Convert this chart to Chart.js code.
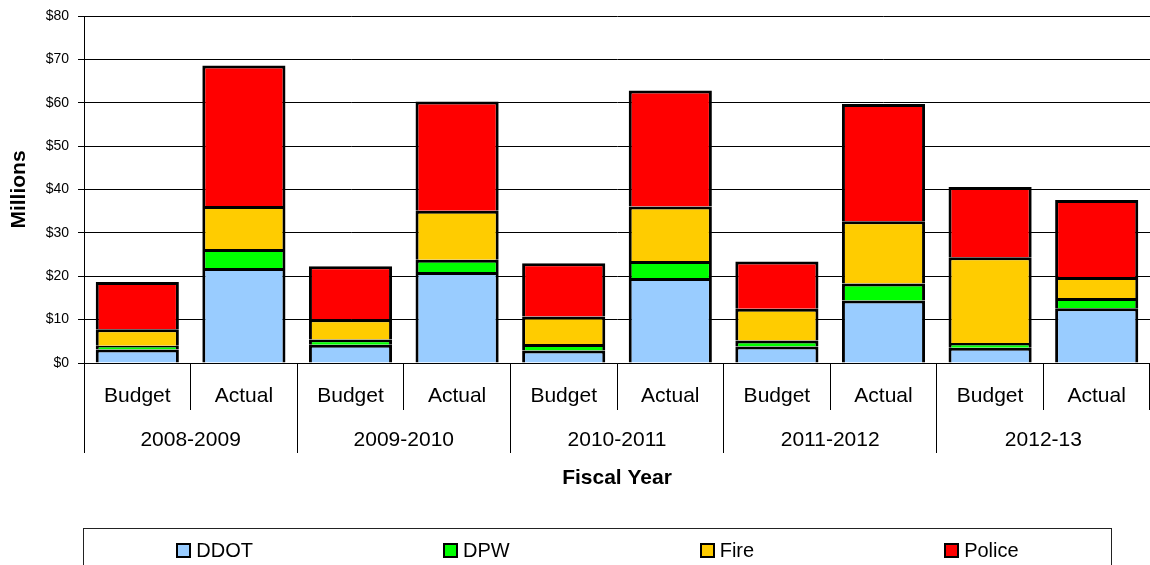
<!DOCTYPE html>
<html>
<head>
<meta charset="utf-8">
<script src="https://cdn.jsdelivr.net/npm/chart.js@4"></script>
<style>
  body { margin: 0; background: #fff; font-family: 'Liberation Sans', Arial, sans-serif; }
  #wrap { position: relative; width: 1150px; height: 565px; overflow: hidden; }
  #legend {
    position: absolute; left: 83px; top: 528px; width: 1029px; height: 60px;
    border: 1px solid #222; box-sizing: border-box;
    display: flex; justify-content: center; align-items: flex-start; gap: 190px;
    padding-top: 9px;
  }
  .item { display: flex; align-items: center; font-size: 20px; color: #000; line-height: 24px; }
  .sw { width: 11px; height: 11px; border: 2px solid #000; margin-right: 5px; }
</style>
</head>
<body>
<div id="wrap">
  <canvas id="myChart"></canvas>
  <div id="legend"></div>
</div>
<script>
let categorias = ['Budget', 'Actual', 'Budget', 'Actual', 'Budget', 'Actual', 'Budget', 'Actual', 'Budget', 'Actual'];
let anios = ['2008-2009', '2009-2010', '2010-2011', '2011-2012', '2012-13'];
let ddot = [3.1, 21.9, 4.2, 21.0, 2.9, 19.6, 3.8, 14.4, 3.5, 12.6];
let dpw = [0.9, 4.4, 1.2, 2.8, 1.5, 3.9, 1.4, 3.9, 1.1, 2.4];
let fire = [3.8, 9.9, 4.7, 11.3, 6.3, 12.6, 7.3, 14.4, 19.8, 4.8];
let police = [10.9, 32.4, 12.2, 25.2, 12.3, 26.7, 10.9, 27.0, 16.2, 17.8];
let yTicks = [0, 10, 20, 30, 40, 50, 60, 70, 80];

const fuente = "'Liberation Sans', Arial, sans-serif";

function serie(nombre, datos, color) {
    return {
        label: nombre,
        data: datos,
        backgroundColor: color,
        borderColor: '#000',
        borderWidth: 3,
        barPercentage: 0.78,
        categoryPercentage: 1
    };
}

let ctx = document.getElementById('myChart').getContext('2d');
let myChart = new Chart(ctx, {
    type: 'bar',
    data: {
        labels: categorias,
        datasets: [
            serie('DDOT', ddot, '#99CCFF'),
            serie('DPW', dpw, '#00FF00'),
            serie('Fire', fire, '#FFCC00'),
            serie('Police', police, '#FF0000')
        ]
    },
    options: {
        responsive: true,
        maintainAspectRatio: false,
        animation: false,
        layout: { padding: { top: 16, left: 0, right: 0, bottom: 75 } },
        plugins: {
            legend: { display: false },
            tooltip: { enabled: false }
        },
        scales: {
            x: {
                stacked: true,
                offset: true,
                afterFit: (s) => { s.height = 47; },
                grid: { offset: true, drawOnChartArea: false, color: '#000', tickLength: 47 },
                border: { color: '#000' },
                ticks: {
                    color: '#000', padding: -28, maxRotation: 0, autoSkip: false,
                    font: { family: fuente, size: 21, lineHeight: '28px' }
                }
            },
            x2: {
                type: 'category',
                position: 'bottom',
                labels: anios,
                offset: true,
                afterFit: (s) => { s.height = 80; },
                grid: { offset: true, drawOnChartArea: false, color: '#000', tickLength: 43 },
                border: { display: false },
                ticks: {
                    color: '#000', padding: -26, maxRotation: 0, autoSkip: false,
                    font: { family: fuente, size: 21, lineHeight: '26px' }
                },
                title: {
                    display: true, text: 'Fiscal Year', color: '#000',
                    font: { family: fuente, size: 21, weight: 'bold', lineHeight: '24px' },
                    padding: { top: 13, bottom: 0 }
                }
            },
            y: {
                stacked: true,
                min: 0,
                max: 80,
                afterFit: (s) => { s.width = 84; },
                afterBuildTicks: (s) => { s.ticks = yTicks.map(v => ({ value: v })); },
                grid: { color: '#000', lineWidth: 1, tickLength: 6 },
                border: { color: '#000' },
                ticks: {
                    color: '#000', padding: 9,
                    font: { family: fuente, size: 14, lineHeight: 1 },
                    callback: (v) => '$' + v
                },
                title: {
                    display: true, text: 'Millions', color: '#000',
                    font: { family: fuente, size: 21, weight: 'bold' },
                    padding: { top: 7, bottom: 0 }
                }
            }
        }
    }
});

// leyenda en html a partir de los datasets
let leyenda = document.getElementById('legend');
myChart.data.datasets.forEach(ds => {
    let item = document.createElement('div');
    item.className = 'item';
    let sw = document.createElement('span');
    sw.className = 'sw';
    sw.style.background = ds.backgroundColor;
    item.appendChild(sw);
    item.appendChild(document.createTextNode(ds.label));
    leyenda.appendChild(item);
});
</script>
</body>
</html>
